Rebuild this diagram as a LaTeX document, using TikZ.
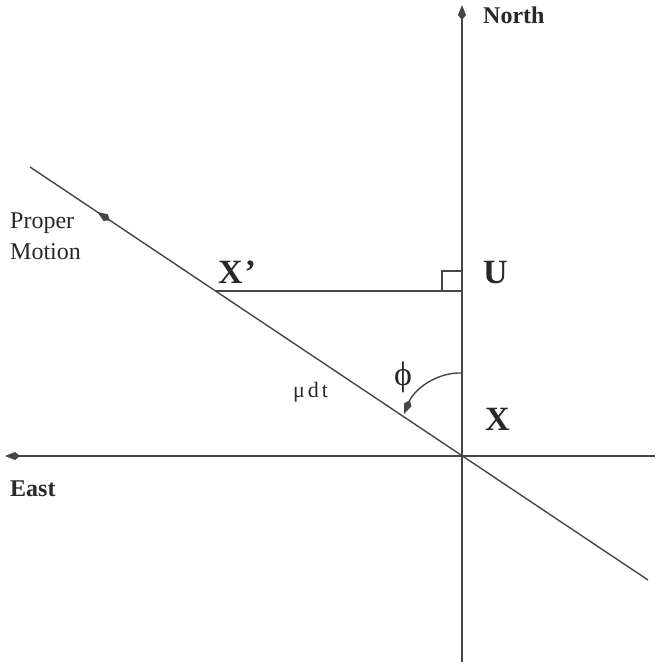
\documentclass[tikz,border=0pt]{standalone}
\usepackage{fontspec}
\setmainfont{Liberation Serif}
\usetikzlibrary{arrows.meta,decorations.markings}
\definecolor{lc}{RGB}{70,70,70}
\definecolor{tc}{RGB}{40,40,40}
\begin{document}
\begin{tikzpicture}[x=1pt,y=-1pt,
  axis/.style={draw=lc,line width=1.4pt},
  tipend/.style={-{Kite[length=15pt,width=8pt,inset=5pt]}},
  bigl/.style={font=\fontsize{34}{40}\selectfont\bfseries,text=tc,inner sep=0pt,anchor=base west},
  dirl/.style={font=\fontsize{24}{29}\selectfont\bfseries,text=tc,inner sep=0pt,anchor=base west},
  plainl/.style={font=\fontsize{24}{29}\selectfont,text=tc,inner sep=0pt,anchor=base west}]
\useasboundingbox (0,0) rectangle (659,667);
% coordinates
\coordinate (O) at (462,456);
\coordinate (Ntop) at (462,5);
\coordinate (S) at (462,662);
\coordinate (W) at (5,456);
\coordinate (Eend) at (655,456);
\coordinate (A) at (30,167);
\coordinate (B) at (648,580);
\coordinate (Xp) at (216,291);
\coordinate (U) at (462,291);
\coordinate (sq1) at (442,291);
\coordinate (sq2) at (442,271);
\coordinate (sq3) at (462,271);
\coordinate (arcS) at (462,373);
\coordinate (arcE) at (404,414);
% axes
\draw[axis,tipend] (S) -- (Ntop);
\draw[axis,tipend] (Eend) -- (W);
% proper motion line
\draw[axis,postaction={decorate},decoration={markings,
  mark=at position 0.109 with {\arrowreversed{Kite[length=15pt,width=8pt,inset=5pt]}}}]
  (A) -- (B);
% X' - U segment and right angle
\draw[axis] (Xp) -- (U);
\draw[draw=lc,line width=1.2pt] (sq1) -- (sq2) -- (sq3);
% angle phi
\draw[draw=lc,line width=1.4pt,-{Kite[length=15pt,width=8pt,inset=5pt]}]
  (arcS) .. controls (436,372) and (414,390) .. (arcE);
% labels
\node[dirl] (north) at (483,23) {North};
\node[dirl] (east) at (10,496) {East};
\node[bigl] (ulab) at (483,283) {U};
\node[bigl] (xplab) at (218,283) {X\hspace{2pt}’};
\node[bigl] (xlab) at (485,430) {X};
\node[text=tc,inner sep=0pt] (phi) at (403,377) {\fontsize{34}{40}\selectfont ϕ};
\node[text=tc,inner sep=0pt,anchor=base west] (mudt) at (293,397)
  {\fontsize{22}{26}\selectfont μ\hspace{3pt}d\hspace{3pt}t};
\node[plainl] (pm1) at (10,228) {Proper};
\node[plainl] (pm2) at (10,259) {Motion};
\end{tikzpicture}
\end{document}
